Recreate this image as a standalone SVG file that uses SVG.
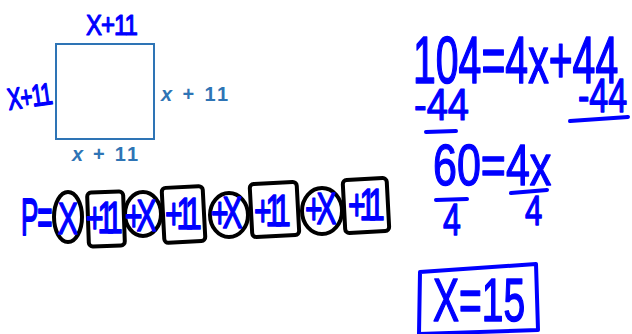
<svg xmlns="http://www.w3.org/2000/svg" width="632" height="334" viewBox="0 0 632 334">
<style>
.hw{font-family:"Liberation Sans",Arial,sans-serif;font-weight:normal;fill:#0000ff;stroke:#0000ff;stroke-width:1;stroke-linejoin:round;}
.p{font-size:30px;}
.n{letter-spacing:-6px;}
.ty{font-family:"Liberation Sans",Arial,sans-serif;font-weight:bold;fill:#2e74b5;font-size:20px;}
.ink{fill:none;stroke:#000;stroke-width:4;stroke-linejoin:round;}
.bl{fill:none;stroke:#0000ff;stroke-width:4;stroke-linecap:round;}
</style>
<rect width="632" height="334" fill="#fff"/>
<g id="square">
<rect x="56" y="44" width="98" height="95" fill="none" stroke="#2e74b5" stroke-width="2"/>
<text class="hw" font-size="24" letter-spacing="-1" transform="translate(86,35) scale(1,1.2)">X+11</text>
<text class="hw" font-size="21" letter-spacing="-1" transform="translate(9,110) rotate(-8) scale(1,1.45)">X+11</text>
<text class="ty" x="161" y="101" textLength="67" lengthAdjust="spacing"><tspan font-style="italic">x</tspan> + 11</text>
<text class="ty" x="72" y="161" textLength="66" lengthAdjust="spacing"><tspan font-style="italic">x</tspan> + 11</text>
</g>
<g id="perimeter">
<ellipse class="ink" cx="68" cy="217" rx="14" ry="25"/>
<rect class="ink" x="88" y="192" width="36" height="54" rx="4" transform="rotate(-2 106 219)"/>
<ellipse class="ink" cx="143" cy="214" rx="18" ry="22"/>
<rect class="ink" x="163" y="187" width="41" height="55" rx="4" transform="rotate(-3 183 214)"/>
<ellipse class="ink" cx="229" cy="215" rx="19" ry="22"/>
<rect class="ink" x="251" y="183" width="47" height="53" rx="4" transform="rotate(-3 274 210)"/>
<ellipse class="ink" cx="322" cy="211" rx="20" ry="23"/>
<rect class="ink" x="344" y="179" width="44" height="53" rx="4" transform="rotate(-3 366 206)"/>
<text class="hw" font-size="26" letter-spacing="-1" transform="translate(21,235) scale(1,2)">P=</text>
<text class="hw p" transform="translate(58,234) scale(1,1.45)">X</text>
<text class="hw p n" transform="translate(86,233) scale(1,1.45)">+11</text>
<text class="hw p n" transform="translate(125,231) scale(1,1.45)" letter-spacing="-3">+X</text>
<text class="hw p n" transform="translate(165,229) scale(1,1.45)">+11</text>
<text class="hw p n" transform="translate(211,228) scale(1,1.45)" letter-spacing="-3">+X</text>
<text class="hw p n" transform="translate(254,226) scale(1,1.45)" letter-spacing="-4">+11</text>
<text class="hw p n" transform="translate(305,224) scale(1,1.45)" letter-spacing="-3">+X</text>
<text class="hw p n" transform="translate(348,220) scale(1,1.45)" letter-spacing="-5">+11</text>
</g>
<g id="solution">
<text class="hw" font-size="41" transform="translate(413,83) scale(1,1.63)">104=4x+44</text>
<text class="hw" font-size="38" transform="translate(414,120) scale(1,1.19)">-44</text>
<line class="bl" x1="426" y1="132" x2="456" y2="131"/>
<text class="hw" font-size="34" transform="translate(578,112) scale(1,1.44)">-44</text>
<line class="bl" x1="570" y1="121" x2="628" y2="117"/>
<text class="hw" font-size="43" transform="translate(433,185) scale(1,1.35)">60=4x</text>
<line class="bl" x1="436" y1="200" x2="467" y2="199"/>
<line class="bl" x1="511" y1="193" x2="547" y2="190"/>
<text class="hw" font-size="32" transform="translate(443,235) scale(1,1.4)">4</text>
<text class="hw" font-size="31" transform="translate(525,225) scale(1,1.35)">4</text>
<path class="bl" d="M420 272 L536 264 L538 330 L419 334 Z" stroke-linejoin="round"/>
<text class="hw" font-size="39" transform="translate(433,321) scale(1,1.58)">X=15</text>
</g>
</svg>
